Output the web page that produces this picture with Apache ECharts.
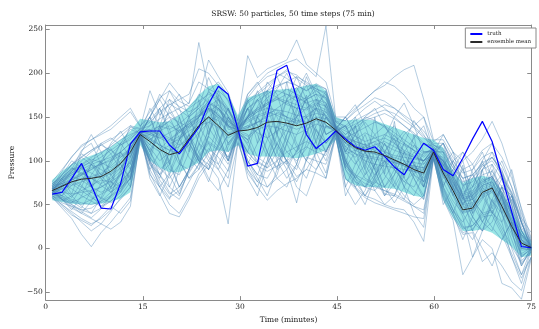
<!DOCTYPE html>
<html>
<head>
<meta charset="utf-8">
<script src="https://cdn.jsdelivr.net/npm/echarts@6/dist/echarts.min.js"></script>
<style>
html, body { margin: 0; padding: 0; background: #fff; }
#chart { width: 539px; height: 329px; }
</style>
</head>
<body>
<div id="chart"></div>
<script>
// time of each of the 50 steps (minutes)
var times = [1.00,2.51,4.02,5.53,7.04,8.55,10.06,11.57,13.08,14.59,16.10,17.61,19.12,20.63,22.14,23.65,25.16,26.67,28.18,29.69,
  31.20,32.71,34.22,35.73,37.24,38.76,40.27,41.78,43.29,44.80,46.31,47.82,49.33,50.84,52.35,53.86,55.37,56.88,58.39,59.90,
  61.41,62.92,64.43,65.94,67.45,68.96,70.47,71.98,73.49,75.00];

var truth = [62,64,80,97,72,46,45,74,119,133, 134,134,118,108,123,138,165,185,176,136,
  94,97,150,203,209,172,130,114,123,134, 125,116,112,116,105,93,84,103,120,112,
  90,83,103,125,145,122,82,42,2,1];

var ensembleMean = [66,71,76,79,80,82,88,97,110,130, 122,113,107,110,125,140,150,140,129,134,
  135,138,144,145,143,140,143,148,144,135, 123,115,111,110,106,101,96,90,86,110,
  86,66,44,46,64,69,48,25,6,1];

// spread band (lower / upper edge)
var bandLow = [55,53,51,50,50,51,53,57,64,118, 100,92,87,87,92,98,110,112,110,118,
  108,105,105,105,104,103,105,108,112,124, 78,72,70,70,69,68,64,60,58,100,
  55,35,20,20,22,18,10,2,-10,-8];
var bandHigh = [78,88,96,102,106,110,116,124,134,148, 146,144,145,152,162,175,185,188,175,152,
  172,176,180,181,182,183,186,188,180,150, 146,147,147,146,142,138,134,130,126,124,
  115,88,75,80,83,80,65,45,22,8];

var particles = [
  [62,58,50,42,35,45,60,72,85,128, 112,84,70,96,130,110,90,135,160,132, 90,70,100,140,120,96,80,110,150,134, 104,80,60,76,100,70,56,84,100,108, 72,90,60,36,20,52,70,40,-10,0],
  [70,78,86,95,102,98,92,100,115,134, 130,138,145,132,140,150,162,170,150,138, 150,160,172,180,176,168,172,180,170,140, 130,140,150,146,138,128,120,112,104,114, 100,80,62,66,78,82,60,38,14,4],
  [66,80,62,95,70,100,68,110,90,131, 100,140,96,150,110,170,130,175,118,133, 160,120,180,130,190,140,175,120,165,138, 95,140,90,150,85,145,80,130,70,111, 110,60,95,40,90,45,70,20,-20,1],
  [58,50,40,30,20,28,42,58,70,126, 100,80,110,140,116,96,128,170,140,128, 110,150,170,130,96,76,100,136,120,132, 92,110,130,100,70,52,70,96,80,104, 62,40,10,36,70,96,60,20,-18,-4],
  [74,84,95,105,112,120,126,118,124,137, 180,152,165,158,150,160,172,180,170,142, 168,176,185,196,204,194,186,180,172,144, 140,150,160,168,160,150,140,130,118,118, 110,92,80,84,96,104,86,62,30,8],
  [64,72,88,104,96,84,70,86,118,132, 100,84,96,124,150,160,138,120,104,135, 176,190,170,150,124,110,130,160,180,137, 150,130,100,84,96,120,134,120,96,112, 60,40,70,84,66,40,30,56,20,1],
  [68,76,82,78,70,64,70,84,100,130, 115,100,110,124,140,152,162,152,138,136, 148,156,160,158,150,142,150,160,152,136, 112,104,116,122,112,102,94,88,84,110, 84,62,40,44,60,66,44,22,4,-1],
  [60,54,60,66,72,78,76,70,80,129, 150,120,100,70,90,118,150,124,100,131, 124,96,70,84,120,150,170,150,120,135, 140,110,84,96,120,96,70,60,84,108, 120,80,56,90,110,80,40,0,-30,0],
  [72,80,88,96,104,110,116,124,130,135, 134,140,136,142,152,164,178,172,158,140, 160,170,180,172,164,160,170,176,166,140, 134,128,122,126,130,124,118,112,106,116, 102,82,64,70,84,88,70,46,20,5],
  [66,56,44,60,84,100,114,96,78,131, 150,170,150,126,104,90,110,140,160,134, 100,84,110,140,170,184,164,130,110,136, 90,70,84,110,130,140,120,96,76,111, 120,96,74,50,30,48,72,60,30,1],
  [70,88,105,116,124,132,140,150,160,140, 150,170,189,175,165,235,180,190,175,145, 220,195,205,210,215,238,210,200,190,150, 150,160,170,180,190,185,175,160,150,122, 130,110,100,110,125,145,120,85,35,18],
  [58,46,34,16,2,18,30,44,58,124, 90,70,50,40,60,85,100,90,70,120, 90,76,70,80,90,52,104,100,96,126, 80,70,60,56,50,46,44,30,8,102, 56,32,-30,-10,10,0,-40,-45,-58,-12],
  [64,60,72,84,96,90,84,92,104,132, 124,132,126,118,124,138,150,160,146,136, 140,132,126,134,142,150,160,170,162,138, 116,124,132,126,118,112,108,104,100,113, 92,74,58,60,72,76,58,34,10,2],
  [68,84,100,92,70,56,74,112,140,131, 84,70,86,118,146,130,104,96,120,133, 120,150,190,176,140,116,100,124,150,136, 150,164,140,110,84,70,90,118,110,110, 100,70,40,20,44,80,100,70,30,0],
  [62,68,74,66,58,52,58,68,84,129, 90,110,84,62,90,130,160,148,110,132, 124,150,136,100,80,96,134,110,86,134, 120,150,120,90,60,74,100,80,56,107, 100,80,100,60,30,20,50,60,10,-2],
  [72,74,78,84,90,98,108,118,126,134, 136,128,122,128,138,150,166,158,144,138, 152,160,166,170,166,160,158,164,158,139, 126,120,114,118,122,116,110,104,100,114, 96,76,56,60,74,80,62,38,14,3],
  [66,60,78,110,130,110,84,70,104,131, 136,116,90,84,110,150,170,130,100,135, 160,140,110,92,120,156,196,170,130,137, 100,80,70,96,126,150,166,140,110,112, 70,100,110,86,60,40,60,30,-10,1],
  [60,56,52,58,64,58,52,60,76,128, 106,140,170,150,120,100,128,116,104,130, 150,180,150,110,90,112,140,170,150,133, 100,70,50,80,110,130,110,84,70,107, 50,70,90,56,40,70,84,50,-8,-2],
  [74,82,90,94,98,104,112,120,128,136, 144,156,164,170,176,205,200,186,168,142, 172,186,196,200,194,186,180,188,182,145, 146,156,164,172,168,160,150,140,128,120, 120,100,86,90,104,110,94,70,40,10],
  [64,70,80,72,60,48,60,90,120,131, 110,130,160,176,150,120,100,118,150,134, 118,100,92,110,150,180,200,176,140,136, 126,100,80,74,90,110,130,140,150,111, 70,44,30,50,90,104,90,50,10,1],
  [68,74,68,60,54,48,54,64,80,129, 150,120,96,70,90,130,160,130,100,132, 96,76,100,130,170,196,170,136,110,134, 70,96,120,94,70,90,120,146,130,109, 130,110,70,40,56,90,60,20,0,-1],
  [62,70,78,86,80,72,64,72,88,130, 122,114,124,134,142,150,158,150,140,135, 138,144,152,160,168,174,166,158,150,137, 116,108,100,96,94,92,90,88,86,111, 90,70,52,56,70,74,56,32,10,2],
  [70,60,52,70,96,120,108,90,70,132, 126,110,70,60,90,120,110,90,116,133, 96,120,140,120,100,90,120,150,130,136, 100,76,60,82,110,126,100,80,60,110, 94,110,90,70,100,120,84,50,20,0],
  [66,76,88,100,110,118,112,104,112,133, 132,140,150,144,138,146,156,164,152,137, 146,152,156,152,146,144,152,160,156,138, 124,118,112,108,104,100,96,94,92,112, 92,72,54,56,68,72,54,30,8,1],
  [64,72,60,48,40,58,84,96,80,131, 150,176,160,140,124,150,180,164,136,134, 136,162,180,196,170,150,130,112,140,136, 110,130,150,160,140,120,106,90,70,111, 84,100,80,56,40,24,10,30,16,0],
  [60,52,48,44,46,54,64,74,90,128, 104,84,64,56,76,96,114,104,88,127, 80,60,96,120,100,70,60,90,112,130, 60,84,110,90,62,60,84,100,70,105, 66,44,22,26,40,44,24,2,-16,-4],
  [72,78,84,90,96,100,104,110,120,134, 134,130,124,132,144,156,168,160,148,137, 150,158,164,170,176,172,166,170,166,139, 128,122,118,114,110,106,104,102,100,113, 94,74,56,58,72,76,58,34,12,2],
  [68,74,90,112,120,96,76,64,90,132, 96,84,110,136,120,100,90,110,130,135, 130,104,96,120,136,168,186,160,130,137, 96,80,96,120,110,96,80,66,56,112, 100,84,60,36,20,30,60,90,44,1],
  [66,64,62,64,66,70,76,84,96,131, 118,150,180,160,130,100,90,120,150,133, 170,140,110,90,100,130,150,120,100,136, 150,130,110,80,60,84,110,96,76,110, 110,84,60,80,100,70,40,60,20,0],
  [58,48,38,32,26,36,48,40,54,125, 96,74,58,66,86,104,120,112,96,128, 106,94,88,94,100,108,116,110,106,131, 92,82,74,70,66,62,56,48,40,104, 68,44,24,26,38,42,20,-6,-30,-10],
  [76,90,104,118,124,130,136,146,156,139, 156,172,180,168,162,172,215,196,178,146, 176,188,200,206,212,216,206,196,254,148, 146,158,170,180,186,196,204,209,170,124, 124,104,90,96,112,120,104,80,46,12],
  [64,56,48,40,34,28,22,30,48,127, 86,62,40,36,56,80,96,80,28,122, 86,70,55,66,74,80,90,86,80,128, 80,68,58,52,48,44,40,36,34,102, 58,36,16,18,-15,-5,-20,-38,-48,-10],
  [70,74,80,86,92,96,100,106,114,133, 132,126,132,138,146,152,160,152,142,137, 148,156,164,174,182,176,170,176,172,140, 126,132,138,144,140,132,124,116,108,114, 98,78,60,64,76,82,64,40,16,4],
  [62,68,58,76,96,80,64,84,120,130, 140,160,136,100,80,96,130,160,140,131, 110,96,124,156,150,120,100,90,110,133, 140,120,96,76,70,84,110,126,140,108, 100,76,50,70,96,84,56,30,-2,-1],
  [68,72,76,80,82,86,94,104,114,132, 126,118,112,116,130,144,150,146,132,135, 140,144,146,144,140,136,140,146,144,137, 120,112,106,104,102,98,94,92,90,112, 88,66,46,48,62,68,50,26,6,1],
  [66,80,92,86,80,74,80,92,106,132, 124,136,146,152,160,168,176,170,156,139, 160,168,176,184,190,196,190,182,176,142, 130,138,146,150,154,148,140,132,120,116, 106,88,72,76,90,96,78,54,24,6],
  [64,58,54,50,56,62,68,76,88,130, 80,60,84,110,130,100,76,110,130,132, 150,130,104,80,70,96,130,160,140,134, 120,140,110,90,100,76,60,50,60,108, 84,60,36,-10,20,56,30,-10,-40,-1],
  [70,64,54,46,66,96,120,134,114,133, 110,92,80,96,124,140,120,96,80,135, 124,136,160,182,200,176,150,134,120,138, 100,84,70,66,80,100,120,112,90,112, 80,90,110,96,70,54,40,10,-20,1],
  [62,56,50,44,40,46,54,66,80,128, 130,160,130,100,80,90,140,180,150,129, 100,80,60,90,130,160,140,100,80,132, 70,50,66,96,120,100,70,40,24,106, 120,96,60,20,0,-20,10,30,-14,-3],
  [72,84,96,104,112,118,124,132,140,137, 146,160,170,162,156,162,195,170,158,141, 168,178,188,196,202,198,188,182,178,146, 138,146,152,158,164,160,152,144,134,118, 114,96,80,84,98,104,88,64,34,8],
  [64,78,92,84,70,82,100,120,104,129, 112,136,156,140,120,104,96,116,146,132, 160,150,126,104,96,110,140,164,176,135, 110,96,110,130,140,124,100,84,76,108, 96,70,50,30,20,40,70,60,30,-1],
  [66,68,72,76,80,84,90,98,108,131, 124,118,112,108,118,132,144,152,140,134, 138,144,150,154,150,146,144,150,148,137, 114,108,104,102,100,98,96,94,92,111, 88,68,48,50,62,66,48,26,6,1],
  [60,50,42,34,28,34,44,56,70,126, 98,78,62,70,88,106,122,114,100,129, 110,98,92,100,110,116,122,116,110,132, 94,84,78,72,66,60,54,48,44,104, 64,40,18,22,36,38,16,-10,-34,-10],
  [74,80,86,92,100,108,118,128,138,136, 140,148,154,160,166,190,182,176,160,140, 166,174,180,186,190,186,180,186,182,144, 136,142,148,154,158,154,146,138,126,118, 112,92,76,80,94,100,84,60,28,7],
  [68,56,46,40,54,74,100,110,96,131, 104,90,100,124,150,176,166,140,120,135, 100,84,80,100,130,150,170,186,160,136, 90,76,70,84,100,90,76,70,90,111, 70,50,26,10,30,56,80,64,30,1],
  [62,60,56,52,50,54,60,68,80,128, 100,70,56,90,126,104,80,66,90,130, 150,170,144,116,100,82,90,110,140,133, 140,120,90,66,50,60,90,110,100,107, 104,80,50,64,90,110,80,40,0,-2],
  [70,76,84,92,86,80,86,96,108,132, 128,134,140,134,142,154,166,160,146,137, 150,158,166,172,168,164,160,166,162,139, 126,122,118,122,126,120,112,106,100,114, 96,76,58,62,76,82,64,40,16,4],
  [66,80,96,108,100,84,96,120,136,131, 160,140,116,96,90,110,134,150,130,134, 150,170,160,130,110,100,114,140,156,136, 110,130,144,130,110,90,76,86,110,111, 76,54,40,60,80,70,40,16,-6,1],
  [64,70,76,70,64,70,78,88,98,130, 118,110,118,126,134,140,144,138,126,133, 128,136,140,138,134,130,136,142,138,135, 108,112,116,112,106,100,96,92,88,110, 82,62,42,44,58,64,46,24,4,0],
  [68,72,78,84,90,96,102,110,120,133, 130,126,120,124,136,150,160,154,140,136, 144,150,154,158,156,152,150,154,152,138, 120,114,110,108,106,104,100,98,96,112, 90,70,50,52,66,70,52,28,8,1]
];

var yTicks = [-50, 0, 50, 100, 150, 200, 250];

var serif = 'DejaVu Serif';
var frameColor = '#8a8a8a';

function pairs(arr) {
  return times.map(function (t, i) { return [t, arr[i]]; });
}

var series = [];

// spread band, under the particle lines
series.push({
  type: 'custom',
  silent: true,
  z: 1,
  data: [[times[0], bandLow[0]]],
  encode: { x: 0, y: 1 },
  renderItem: function (params, api) {
    var pts = [];
    for (var i = 0; i < times.length; i++) pts.push(api.coord([times[i], bandHigh[i]]));
    for (var j = times.length - 1; j >= 0; j--) pts.push(api.coord([times[j], bandLow[j]]));
    return {
      type: 'polygon',
      shape: { points: pts },
      style: { fill: 'rgba(0,191,191,0.4)' }
    };
  }
});

particles.forEach(function (p) {
  series.push({
    type: 'line',
    data: pairs(p),
    symbol: 'none',
    silent: true,
    z: 2,
    lineStyle: { color: '#4682b4', width: 0.8, opacity: 0.5 }
  });
});

series.push({
  name: 'truth',
  type: 'line',
  data: pairs(truth),
  symbol: 'none',
  z: 5,
  itemStyle: { color: '#0000ff' },
  lineStyle: { color: '#0000ff', width: 1.2 }
});
series.push({
  name: 'ensemble mean',
  type: 'line',
  data: pairs(ensembleMean),
  symbol: 'none',
  z: 5,
  itemStyle: { color: '#2a2a2a' },
  lineStyle: { color: '#2a2a2a', width: 1 }
});

var chart = echarts.init(document.getElementById('chart'), null, { renderer: 'canvas' });

function sideAxis(pos, isX) {
  var a = {
    type: 'value',
    position: pos,
    axisLine: { show: true, onZero: false, lineStyle: { color: frameColor, width: 1 } },
    axisTick: { show: true, inside: true, length: 4, lineStyle: { color: frameColor } },
    axisLabel: { show: false },
    splitLine: { show: false }
  };
  if (isX) {
    a.min = 0; a.max = 75; a.interval = 15;
  } else {
    a.min = -59; a.max = 255;
    a.axisTick.customValues = yTicks;
  }
  return a;
}

var option = {
  animation: false,
  backgroundColor: '#fff',
  title: {
    text: 'SRSW: 50 particles, 50 time steps (75 min)',
    left: 288,
    textAlign: 'center',
    top: 5,
    textStyle: { fontFamily: serif, fontSize: 7.5, fontWeight: 'normal', color: '#222' }
  },
  legend: {
    data: ['truth', 'ensemble mean'],
    orient: 'vertical',
    right: 3,
    top: 28,
    padding: [3, 5, 3, 5],
    itemGap: 2,
    itemWidth: 12,
    itemHeight: 2,
    icon: 'rect',
    borderColor: '#888',
    borderWidth: 1,
    backgroundColor: '#fff',
    textStyle: { fontFamily: serif, fontSize: 5.5, color: '#222' }
  },
  grid: { left: 38, right: 1, top: 25, bottom: 17 },
  xAxis: [{
    type: 'value',
    min: 0, max: 75, interval: 15,
    name: 'Time (minutes)',
    nameLocation: 'middle',
    nameGap: 11,
    nameTextStyle: { fontFamily: serif, fontSize: 7.5, color: '#222' },
    axisLine: { show: true, onZero: false, lineStyle: { color: frameColor, width: 1 } },
    axisTick: { show: true, inside: true, length: 4, lineStyle: { color: frameColor } },
    axisLabel: { fontFamily: serif, fontSize: 7.5, color: '#222', margin: 3 },
    splitLine: { show: false }
  }, sideAxis('top', true)],
  yAxis: [{
    type: 'value',
    min: -59, max: 255,
    name: 'Pressure',
    nameLocation: 'middle',
    nameGap: 25,
    nameTextStyle: { fontFamily: serif, fontSize: 7.5, color: '#222' },
    axisLine: { show: true, onZero: false, lineStyle: { color: frameColor, width: 1 } },
    axisTick: { show: true, inside: true, length: 4, customValues: yTicks, lineStyle: { color: frameColor } },
    axisLabel: {
      fontFamily: serif, fontSize: 7.5, color: '#222', margin: 3,
      customValues: yTicks,
      formatter: function (v) { return String(v).replace('-', '\u2212'); }
    },
    splitLine: { show: false }
  }, sideAxis('right', false)],
  series: series
};

chart.setOption(option);
</script>
</body>
</html>
